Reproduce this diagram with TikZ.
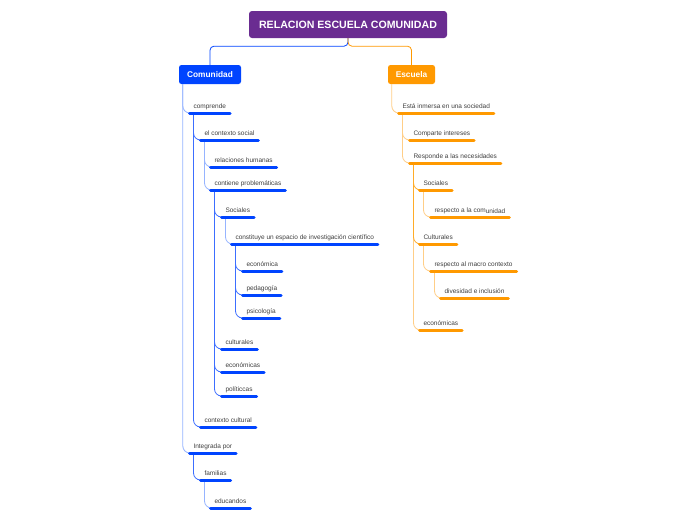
\documentclass[tikz,border=0pt]{standalone}
\usepackage{fontspec}
\setmainfont{Liberation Sans}
\usetikzlibrary{positioning}
\definecolor{rootpurple}{RGB}{106,44,145}
\definecolor{comblue}{RGB}{0,68,255}
\definecolor{commid}{RGB}{60,110,255}
\definecolor{comlight}{RGB}{150,180,255}
\definecolor{escorange}{RGB}{255,153,0}
\definecolor{escmid}{RGB}{255,172,40}
\definecolor{esclight}{RGB}{255,206,135}
\tikzset{
    basic/.style={rectangle, rounded corners=3pt, text=white, align=center},
    topic/.style={anchor=south west, inner xsep=3.8pt, inner ysep=2.7pt, text height=4.7pt, text depth=1.4pt, text=black!75},
    bar/.style={line width=3pt, line cap=round},
    link/.style={line width=0.8pt, rounded corners=7pt}
}

\begin{document}
\begin{tikzpicture}[
    x=1pt, y=-1pt,
    font=\fontsize{6.5}{8}\selectfont,
    % estilos
    rootbox/.style={basic, fill=rootpurple, minimum width=198pt, minimum height=27pt, font=\fontsize{10.6}{12}\selectfont\bfseries},
    branch/.style={basic, rounded corners=2.5pt, minimum height=19pt, inner xsep=0pt, font=\fontsize{8.3}{10}\selectfont\bfseries},
    cbar/.style={bar, draw=comblue},
    ebar/.style={bar, draw=escorange},
    clight/.style={link, draw=comlight},
    cdark/.style={link, draw=commid},
    elight/.style={link, draw=esclight},
    edark/.style={link, draw=escmid}
]
    \fill[white] (0,0) rectangle (696,520);
    \useasboundingbox (0,0) rectangle (696,520);

    % ============================================================
    % Central topic and main branches
    % ============================================================
    \node[rootbox] (root) at (348,24.5) {RELACION ESCUELA COMUNIDAD};
    \node[branch, fill=comblue, minimum width=62pt] (com) at (210,74.5) {Comunidad};
    \node[branch, fill=escorange, minimum width=47pt] (esc) at (411.5,74.5) {Escuela};

    \draw[comblue, line width=0.8pt, rounded corners=4pt] (root.south) -- ++(0,8) -| (com.north);
    \draw[escorange, line width=0.8pt, rounded corners=4pt] (root.south) -- ++(0,8) -| (esc.north);

    % ============================================================
    % Comunidad
    % ============================================================
    \node[topic] (compr) at (189.5,113) {comprende};
    \node[topic] (ctxsoc) at (200.5,140) {el contexto social};
    \node[topic] (relhum) at (210.5,167) {relaciones humanas};
    \node[topic] (contprob) at (210.5,190) {contiene problemáticas};
    \node[topic] (csoc) at (221.5,217) {Sociales};
    \node[topic] (constit) at (231.5,244) {constituye un espacio de investigación científico};
    \node[topic] (econ) at (242.5,271) {económica};
    \node[topic] (pedag) at (242.5,295) {pedagogía};
    \node[topic] (psico) at (242.5,318) {psicología};
    \node[topic] (cult) at (221.5,349) {culturales};
    \node[topic] (cecon) at (221.5,372) {económicas};
    \node[topic] (polit) at (221.5,396) {políticcas};
    \node[topic] (ctxcul) at (200.5,427) {contexto cultural};
    \node[topic] (integ) at (189.5,453) {Integrada por};
    \node[topic] (famil) at (200.5,480) {familias};
    \node[topic] (educ) at (210.5,508) {educandos};

    % connectors
    \foreach \a/\b in {com/compr, com/integ, ctxsoc/relhum, ctxsoc/contprob, csoc/constit, famil/educ}
        \draw[clight] ([xshift=4pt]\a.south west) |- (\b.south west);
    \foreach \a/\b in {compr/ctxsoc, compr/ctxcul, contprob/csoc, contprob/cult, contprob/cecon, contprob/polit, constit/econ, constit/pedag, constit/psico, integ/famil}
        \draw[cdark] ([xshift=4pt]\a.south west) |- (\b.south west);

    % underlines
    \foreach \n in {compr, ctxsoc, relhum, contprob, csoc, constit, econ, pedag, psico, cult, cecon, polit, ctxcul, integ, famil, educ}
        \draw[cbar] (\n.south west) -- (\n.south east);

    % ============================================================
    % Escuela
    % ============================================================
    \node[topic] (inmersa) at (398.5,113) {Está inmersa en una sociedad};
    \node[topic] (comparte) at (409.5,140) {Comparte intereses};
    \node[topic] (responde) at (409.5,163) {Responde a las necesidades};
    \node[topic] (esoc) at (419.5,190) {Sociales};
    \node[topic] (respcom) at (430.5,217) {respecto a la com\raisebox{-0.9pt}{unidad}};
    \node[topic] (ecult) at (419.5,244) {Culturales};
    \node[topic] (macro) at (430.5,271) {respecto al macro contexto};
    \node[topic] (divers) at (440.5,298) {divesidad e inclusión};
    \node[topic] (eecon) at (419.5,330) {económicas};

    % connectors
    \foreach \a/\b in {esc/inmersa, inmersa/comparte, inmersa/responde, esoc/respcom, ecult/macro, macro/divers, responde/eecon}
        \draw[elight] ([xshift=4pt]\a.south west) |- (\b.south west);
    \foreach \a/\b in {responde/esoc, responde/ecult}
        \draw[edark] ([xshift=4pt]\a.south west) |- (\b.south west);

    % underlines
    \foreach \n in {inmersa, comparte, responde, esoc, respcom, ecult, macro, divers, eecon}
        \draw[ebar] (\n.south west) -- (\n.south east);

\end{tikzpicture}
\end{document}
